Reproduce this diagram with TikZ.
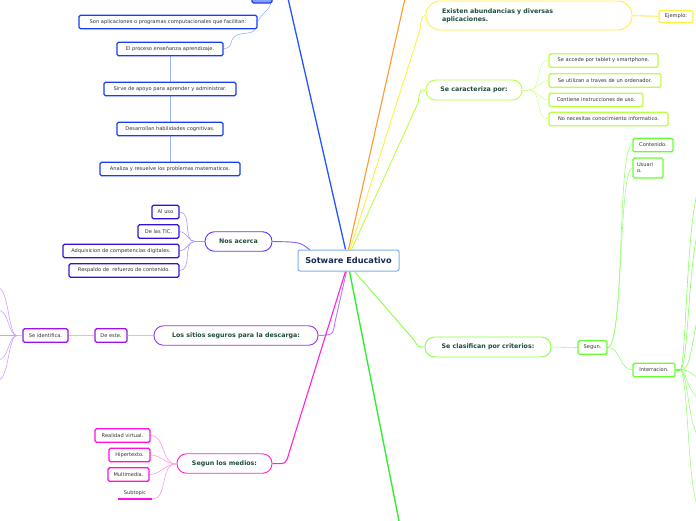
\documentclass[tikz,border=0pt]{standalone}
\usepackage{fontspec}
\setmainfont{DejaVu Sans}
\usetikzlibrary{backgrounds}
\definecolor{txtgray}{HTML}{333333}
\definecolor{txtgreen}{HTML}{1E4D3C}
\definecolor{txtnavy}{HTML}{1A2A55}
\definecolor{cblue}{HTML}{2255FF}
\definecolor{cbluebox}{HTML}{1A3DF0}
\definecolor{cbluelight}{HTML}{99B3FF}
\definecolor{cviolet}{HTML}{6633FF}
\definecolor{cvioletbox}{HTML}{3311DD}
\definecolor{cvioletlight}{HTML}{A799FF}
\definecolor{cpurple}{HTML}{9933EE}
\definecolor{cpurplebox}{HTML}{9911EE}
\definecolor{cpurplelight}{HTML}{DDB8FF}
\definecolor{cpurplemid}{HTML}{BB77FF}
\definecolor{cmagenta}{HTML}{FF22DD}
\definecolor{cmagentabox}{HTML}{FF11DD}
\definecolor{cmagentalight}{HTML}{FF99EE}
\definecolor{corange}{HTML}{FF9933}
\definecolor{cyellow}{HTML}{FFEE44}
\definecolor{cyellowlight}{HTML}{FFEE99}
\definecolor{cygreen}{HTML}{BBFF44}
\definecolor{cygreenlight}{HTML}{D4FF99}
\definecolor{cgreen}{HTML}{88FF44}
\definecolor{cgreenbox}{HTML}{66FF33}
\definecolor{cgreenlight}{HTML}{99FF77}
\definecolor{cbright}{HTML}{33EE33}
\definecolor{ccenter}{HTML}{7FB2E0}
\tikzset{
  box/.style={draw, rounded corners=1.5pt, line width=1.4pt, fill=white,
    font=\fontsize{5.1}{6}\selectfont, text=txtgray, inner sep=0pt,
    minimum height=13.5pt},
  pill/.style={draw, rounded corners=9.5pt, line width=0.9pt, fill=white,
    font=\fontsize{6.3}{7.6}\selectfont\bfseries, text=txtgreen, inner sep=0pt,
    minimum height=19.5pt},
  conn/.style={line width=0.6pt},
}
\begin{document}
\begin{tikzpicture}[x=1pt,y=-1pt]
\useasboundingbox (0,0) rectangle (696,520);
% center
\node[draw=ccenter, line width=1pt, rounded corners=2pt, fill=white, text=txtnavy,
  font=\fontsize{8.2}{10}\selectfont\bfseries, minimum width=101pt, minimum height=21pt,
  inner sep=0pt] (c) at (348.5,260.5) {Sotware Educativo};

% blue branch
\node[box, draw=cbluebox, fill=cblue!55, minimum width=20pt, minimum height=14pt] (top) at (262,-4) {};
\node[box, draw=cbluebox, minimum width=178pt] (son) at (168,22) {Son aplicaciones o programas computacionales que facilitan:};
\node[box, draw=cbluebox, minimum width=106pt] (proceso) at (170,49) {El proceso enseñanza aprendizaje.};
\node[box, draw=cbluebox, minimum width=132pt] (sirve) at (170,89) {Sirve de apoyo para aprender y administrar.};
\node[box, draw=cbluebox, minimum width=106pt] (desarrollan) at (170,129) {Desarrollan habilidades cognitivas.};
\node[box, draw=cbluebox, minimum width=140pt] (analiza) at (170,169) {Analiza y resuelve los problemas matematicos.};

% nos acerca
\node[pill, draw=cviolet, minimum width=67pt] (nos) at (238.5,241.5) {Nos acerca};
\node[box, draw=cvioletbox, minimum width=27pt] (aluso) at (165.5,212) {Al uso};
\node[box, draw=cvioletbox, minimum width=41pt] (tic) at (158.5,231.5) {De las TIC.};
\node[box, draw=cvioletbox, minimum width=116pt] (adq) at (121,251) {Adquisicion de competencias digitales.};
\node[box, draw=cvioletbox, minimum width=110pt] (resp) at (124,270.5) {Respaldo de\ \ refuerzo de contenido.};

% sitios
\node[pill, draw=cpurple, minimum width=164pt] (sitios) at (236,335.5) {Los sitios seguros para la descarga:};
\node[box, draw=cpurplebox, minimum width=32pt] (deeste) at (111,335.5) {De este.};
\node[box, draw=cpurplebox, minimum width=45pt] (seid) at (45.5,335.5) {Se identifica.};

% medios
\node[pill, draw=cmagenta, minimum width=95pt] (medios) at (224.5,463.5) {Segun los medios:};
\node[box, draw=cmagentabox, minimum width=55pt] (realidad) at (122.5,435.5) {Realidad virtual.};
\node[box, draw=cmagentabox, minimum width=41pt] (hiper) at (129.5,455) {Hipertexto.};
\node[box, draw=cmagentabox, minimum width=41pt] (multi) at (128.5,474.5) {Multimedia.};
\node[font=\fontsize{5.1}{6}\selectfont, text=txtgray, inner sep=0pt] (subt) at (135,493) {Subtopic};
\coordinate (subtl) at (118,499);
\coordinate (subtr) at (152,499);

% existen
\node[pill, draw=cyellow, minimum width=206pt, minimum height=29pt, rounded corners=14pt,
  text width=174pt, align=left] (existen) at (529,15.5) {Existen abundancias y diversas\\aplicaciones.};
\node[box, draw=cyellow, minimum width=34pt, minimum height=12pt] (ejemplo) at (676,16.5) {Ejemplo:};

% caracteriza
\node[pill, draw=cygreen, minimum width=96pt, minimum height=20pt] (carac) at (474,90) {Se caracteriza por:};
\node[box, draw=cygreen, minimum width=109pt] (accede) at (603.5,60.5) {Se accede por tablet y smartphone.};
\node[box, draw=cygreen, minimum width=112pt] (utilizan) at (605,80.5) {Se utilizan a traves de un ordenador.};
\node[box, draw=cygreen, minimum width=94pt] (contiene) at (596,100) {Contiene instrucciones de uso.};
\node[box, draw=cygreen, minimum width=119pt] (necesitas) at (608.5,119) {No necesitas conocimiento informatico.};

% clasifican
\node[pill, draw=cgreen, minimum width=126pt, minimum height=20pt] (clasif) at (488,347) {Se clasifican por criterios:};
\node[box, draw=cgreenbox, minimum width=29pt] (segun) at (592.5,347.5) {Segun.};
\node[box, draw=cgreenbox, minimum width=40pt] (contenido) at (653,145) {Contenido.};
\node[box, draw=cgreenbox, minimum width=30pt, minimum height=20pt, text width=22pt, align=left] (usuario) at (648,168) {Usuari\\o.};
\node[box, draw=cgreenbox, minimum width=42pt] (inter) at (654,370) {Interracion.};

% off-picture end points
\coordinate (eblue) at (287,-6);
\coordinate (eorange) at (406,-6);
\coordinate (ebright) at (400,526);

\begin{scope}[on background layer]
% main branches
\draw[cblue, line width=1.3pt] (c.north) ++(-3,0) -- (eblue);
\draw[corange, line width=1.1pt] (c.north) ++(0,0) -- (eorange);
\draw[cyellow, line width=0.9pt] (c.north) ++(1.5,0) -- (420,30) .. controls (422,16) .. (existen.west);
\draw[cygreen, line width=0.9pt] (c.north) ++(3,0) -- (418,103) .. controls (420,90) .. (carac.west);
\draw[cviolet!80, line width=0.9pt] (310,250) .. controls (300,242) .. (nos.east);
\draw[cpurplemid, line width=0.9pt] (c.south) ++(-2,0) -- (335,322) .. controls (333,335) .. (sitios.east);
\draw[cmagenta, line width=1.1pt] (c.south) ++(-3,0) -- (289,453) .. controls (286,464) .. (medios.east);
\draw[cgreen, line width=0.9pt] (c.south) ++(6,0) -- (414,340) .. controls (418,347) .. (clasif.west);
\draw[cbright, line width=1.4pt] (c.south) ++(1,0) -- (ebright);

% blue children
\draw[cbluelight, conn] (top.south east) ++(-2,0) .. controls (268,12) and (262,12) .. (son.east);
\draw[cbluelight, conn] (255,29.5) .. controls (252,36) and (236,30) .. (232,40) .. controls (230,47) .. (proceso.east);
\draw[cbluelight, conn] (proceso.south) -- (sirve.north);
\draw[cbluelight, conn] (sirve.south) -- (desarrollan.north);
\draw[cbluelight, conn] (desarrollan.south) -- (analiza.north);

% nos acerca children
\coordinate (nosj) at (195,241.5);
\draw[cvioletlight, conn] (nos.west) -- (nosj);
\foreach \n in {aluso,tic,adq,resp}
  \draw[cvioletlight, conn] (nosj) to[out=180,in=0] (\n.east);

% sitios children
\draw[cpurplelight, line width=1.6pt] (sitios.west) -- (deeste.east);
\draw[cpurplelight, line width=1.6pt] (deeste.west) -- (seid.east);
\coordinate (sej) at (17,335.5);
\draw[cpurplelight, line width=1.2pt] (seid.west) -- (sej);
\foreach \y in {288,310,335.5,360,380}
  \draw[cpurplemid!70, conn] (sej) .. controls (8,335.5) and (9,\y) .. (-2,\y);

% medios children
\coordinate (medj) at (176,464);
\foreach \n in {realidad,hiper,multi,subtr}
  \draw[cmagentalight, conn] (medj) to[out=180,in=0] (\n);
\end{scope}
\draw[draw=cmagentabox, line width=1.2pt] (subtl) -- (subtr);

\begin{scope}[on background layer]
% existen child
\draw[cyellowlight, line width=1.5pt] (existen.east) -- (ejemplo.west);

% caracteriza children
\coordinate (carj) at (529,90);
\draw[cygreenlight, conn] (carac.east) -- (carj);
\foreach \n in {accede,utilizan,contiene,necesitas}
  \draw[cygreenlight, conn] (carj) to[out=0,in=180] (\n.west);

% clasifican children
\draw[cgreenlight, conn] (clasif.east) -- (segun.west);
\draw[cgreenlight, conn] (segun.east) .. controls (625,347) and (617,145) .. (contenido.west);
\draw[cgreenlight, conn] (segun.east) .. controls (623,347) and (619,168) .. (usuario.west);
\draw[cgreenlight, conn] (segun.east) .. controls (620,347) and (620,370) .. (inter.west);
\coordinate (intj) at (680,370);
\draw[cgreenbox, line width=1.2pt] (inter.east) -- (intj);
\foreach \y/\a in {190/686,230/688,315/690}
  \draw[cgreenbox!80, conn] (intj) .. controls (\a,370) and (\a,{\y+40}) .. (698,\y);
\foreach \y/\a in {378/684,398/686,435/688,505/688}
  \draw[cgreenlight, conn] (intj) .. controls (\a,370) and (\a,{\y-10}) .. (698,\y);
\end{scope}
\end{tikzpicture}
\end{document}
